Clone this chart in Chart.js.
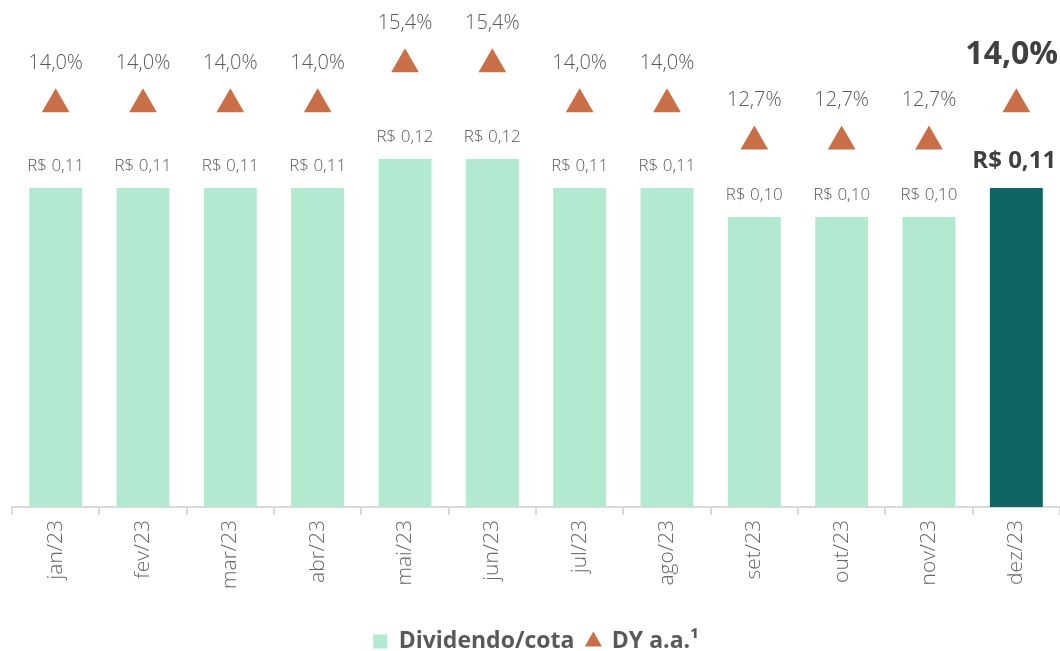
<!DOCTYPE html>
<html>
<head>
<meta charset="utf-8">
<script src="https://cdn.jsdelivr.net/npm/chart.js@4.4.1/dist/chart.umd.min.js"></script>
<style>
  html, body { margin: 0; padding: 0; background: #ffffff; }
  #wrap { width: 1060px; height: 651px; position: relative; }
</style>
</head>
<body>
<div id="wrap"><canvas id="c"></canvas></div>
<script>
const categories = ['jan/23','fev/23','mar/23','abr/23','mai/23','jun/23','jul/23','ago/23','set/23','out/23','nov/23','dez/23'];
const dividendValues = [0.11,0.11,0.11,0.11,0.12,0.12,0.11,0.11,0.10,0.10,0.10,0.11];
const dividendLabels = ['R$ 0,11','R$ 0,11','R$ 0,11','R$ 0,11','R$ 0,12','R$ 0,12','R$ 0,11','R$ 0,11','R$ 0,10','R$ 0,10','R$ 0,10','R$ 0,11'];
const dyValues = [14.0,14.0,14.0,14.0,15.4,15.4,14.0,14.0,12.7,12.7,12.7,14.0];
const dyLabels = ['14,0%','14,0%','14,0%','14,0%','15,4%','15,4%','14,0%','14,0%','12,7%','12,7%','12,7%','14,0%'];
const seriesNames = ['Dividendo/cota', 'DY a.a.\u00B9'];

const FONT = "'Open Sans', Lato, sans-serif";
const highlightIndex = categories.length - 1;
const barColors = categories.map((_, i) => i === highlightIndex ? '#0e6563' : '#b3e9d1');

const labelPlugin = {
  id: 'valueLabels',
  afterDatasetsDraw(chart) {
    const ctx = chart.ctx;
    ctx.save();
    ctx.textBaseline = 'middle';
    const barMeta = chart.getDatasetMeta(0);
    barMeta.data.forEach((el, i) => {
      const hl = i === highlightIndex;
      ctx.font = hl ? `bold 24px ${FONT}` : `300 17px ${FONT}`;
      ctx.fillStyle = hl ? '#404040' : '#595959';
      ctx.textAlign = hl ? 'left' : 'center';
      ctx.fillText(dividendLabels[i], hl ? el.x - 44 : el.x, el.y - (hl ? 27 : 22));
    });
    const dyMeta = chart.getDatasetMeta(1);
    dyMeta.data.forEach((el, i) => {
      const hl = i === highlightIndex;
      ctx.font = hl ? `bold 32px ${FONT}` : `300 20px ${FONT}`;
      ctx.fillStyle = hl ? '#404040' : '#595959';
      ctx.textAlign = hl ? 'left' : 'center';
      ctx.fillText(dyLabels[i], hl ? el.x - 51 : el.x, el.y - (hl ? 49 : 41));
    });
    ctx.restore();
  }
};

new Chart(document.getElementById('c'), {
  type: 'bar',
  data: {
    labels: categories,
    datasets: [
      {
        label: seriesNames[0],
        data: dividendValues,
        backgroundColor: barColors,
        borderWidth: 0,
        categoryPercentage: 0.606,
        barPercentage: 1.0,
        yAxisID: 'y',
        order: 2,
        pointStyle: 'rect'
      },
      {
        type: 'line',
        label: seriesNames[1],
        data: dyValues,
        showLine: false,
        pointStyle: 'triangle',
        pointRadius: 16,
        pointHoverRadius: 16,
        pointBackgroundColor: '#c96f47',
        pointBorderColor: '#c96f47',
        pointBorderWidth: 0,
        backgroundColor: '#c96f47',
        borderColor: '#c96f47',
        yAxisID: 'y2',
        order: 1
      }
    ]
  },
  options: {
    responsive: true,
    maintainAspectRatio: false,
    animation: false,
    events: [],
    layout: { autoPadding: false, padding: { top: 10, left: 12, right: 0, bottom: -12 } },
    scales: {
      x: {
        afterFit(scale) { scale.height += 24; },
        grid: {
          offset: true,
          drawOnChartArea: false,
          drawTicks: true,
          tickLength: 8,
          color: '#d9d9d9',
          lineWidth: 2
        },
        border: { display: true, color: '#d9d9d9', width: 2 },
        ticks: {
          minRotation: 90,
          maxRotation: 90,
          padding: 5,
          color: '#666666',
          font: { family: FONT, size: 21, weight: '300' }
        }
      },
      y: {
        display: false,
        min: 0,
        max: 0.1714
      },
      y2: {
        display: false,
        min: -0.1,
        max: 17.3
      }
    },
    plugins: {
      legend: {
        position: 'bottom',
        labels: {
          usePointStyle: true,
          boxWidth: 14,
          boxHeight: 14,
          padding: 12,
          color: '#595959',
          font: { family: FONT, size: 23, weight: 'bold' },
          generateLabels(chart) {
            return [
              { text: seriesNames[0], fillStyle: '#b3e9d1', strokeStyle: '#b3e9d1', lineWidth: 0, pointStyle: 'rect', datasetIndex: 0, fontColor: '#595959' },
              { text: seriesNames[1], fillStyle: '#c96f47', strokeStyle: '#c96f47', lineWidth: 0, pointStyle: 'triangle', datasetIndex: 1, fontColor: '#595959' }
            ];
          }
        }
      },
      tooltip: { enabled: false }
    }
  },
  plugins: [labelPlugin]
});
</script>
</body>
</html>
